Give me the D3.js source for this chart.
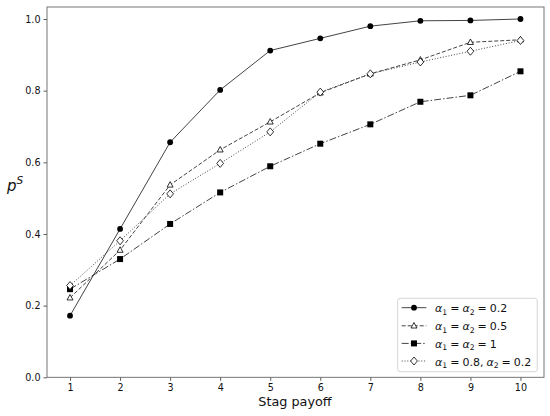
<!DOCTYPE html>
<html><head><meta charset="utf-8">
<script src="https://cdn.jsdelivr.net/npm/d3@7"></script>
<style>body{margin:0;background:#fff}svg{display:block}text{font-family:"DejaVu Sans",sans-serif}</style>
</head><body>
<svg id="c" width="550" height="416"></svg>
<script>
const payoffs = [1,2,3,4,5,6,7,8,9,10];
const s02 = [0.172,0.414,0.656,0.802,0.912,0.946,0.980,0.995,0.996,1.000];
const s05 = [0.222,0.355,0.537,0.635,0.713,0.794,0.847,0.886,0.935,0.942];
const s1  = [0.246,0.330,0.428,0.516,0.589,0.652,0.706,0.769,0.787,0.854];
const s08 = [0.256,0.381,0.512,0.597,0.685,0.796,0.847,0.880,0.910,0.940];
const yTicks = [0,0.2,0.4,0.6,0.8,1.0];
const xTicks = [1,2,3,4,5,6,7,8,9,10];
const legendLabels = [
  [["α","1"],"=",["α","2"],"=","0.2"],
  [["α","1"],"=",["α","2"],"=","0.5"],
  [["α","1"],"=",["α","2"],"=","1"],
  [["α","1"],"=","0.8,",["α","2"],"=","0.2"]
];

const series = [
  {vals:s02, marker:"circle", dash:null, label:legendLabels[0]},
  {vals:s05, marker:"triangle", dash:"4,2", label:legendLabels[1]},
  {vals:s1, marker:"square", dash:"7,2,1.5,2", label:legendLabels[2]},
  {vals:s08, marker:"diamond", dash:"1,1.8", label:legendLabels[3]}
];

const svg = d3.select("#c");
const L=47, R=544, T=7, B=377.3;
const x = d3.scaleLinear().domain([0.54,10.47]).range([L,R]);
const y = d3.scaleLinear().domain([0,1.0335]).range([B,T]);
const lineCol = "#444";

const gx = svg.append("g").attr("transform",`translate(0,${B})`)
  .call(d3.axisBottom(x).tickValues(xTicks).tickFormat(d3.format("d")).tickSize(3.5).tickPadding(3));
const gy = svg.append("g").attr("transform",`translate(${L},0)`)
  .call(d3.axisLeft(y).tickValues(yTicks).tickFormat(d3.format(".1f")).tickSize(3.5).tickPadding(3));
[gx,gy].forEach(g=>{
  g.select(".domain").remove();
  g.selectAll("line").attr("stroke","#333").attr("stroke-width",0.8);
  g.selectAll("text").attr("font-size",9.6).attr("fill","#111").style("font-family","DejaVu Sans");
});
svg.append("rect").attr("x",L).attr("y",T).attr("width",R-L).attr("height",B-T)
  .attr("fill","none").attr("stroke","#666").attr("stroke-width",0.9);

function drawMarker(g, type, cx, cy){
  if(type==="circle") g.append("circle").attr("cx",cx).attr("cy",cy).attr("r",2.9).attr("fill","#000");
  else if(type==="square") g.append("rect").attr("x",cx-3).attr("y",cy-3).attr("width",6).attr("height",6).attr("fill","#000");
  else if(type==="triangle") g.append("path").attr("d",`M${cx},${cy-3.3}L${cx+3},${cy+2.2}L${cx-3},${cy+2.2}Z`).attr("fill","#fff").attr("stroke","#000").attr("stroke-width",0.8);
  else if(type==="diamond") g.append("path").attr("d",`M${cx},${cy-4}L${cx+3.4},${cy}L${cx},${cy+4}L${cx-3.4},${cy}Z`).attr("fill","#fff").attr("stroke","#000").attr("stroke-width",0.8);
}

const line = d3.line().x((d,i)=>x(payoffs[i])).y(d=>y(d));
series.forEach(s=>{
  const g = svg.append("g");
  g.append("path").attr("d",line(s.vals)).attr("fill","none").attr("stroke",lineCol)
    .attr("stroke-width",1).attr("stroke-dasharray",s.dash);
  s.vals.forEach((v,i)=>drawMarker(g,s.marker,x(payoffs[i]),y(v)));
});

// axis labels
svg.append("text").attr("x",(L+R)/2 - 0.5).attr("y",406).attr("text-anchor","middle")
  .attr("font-size",12.8).attr("fill","#111").text("Stag payoff");
const yl = svg.append("text").attr("x",7).attr("y",191).attr("font-size",15).attr("fill","#111");
yl.append("tspan").attr("font-style","italic").text("p");
yl.append("tspan").attr("font-style","italic").attr("font-size",10.5).attr("dy",-7).text("S");

// legend
const lg = svg.append("g");
lg.append("rect").attr("x",397.7).attr("y",298.3).attr("width",139.6).attr("height",73.4).attr("rx",2.5)
  .attr("fill","#fff").attr("stroke","#ccc").attr("stroke-width",0.8);
const rowsY = [307.7,325.8,343.4,361];
series.forEach((s,i)=>{
  const ry = rowsY[i];
  lg.append("line").attr("x1",401.7).attr("x2",426.3).attr("y1",ry).attr("y2",ry)
    .attr("stroke",lineCol).attr("stroke-width",1).attr("stroke-dasharray",s.dash);
  drawMarker(lg,s.marker,414,ry);
  const t = lg.append("text").attr("x",435).attr("y",ry+4.6).attr("font-size",11).attr("fill","#111");
  let first = true, pendingDy = 0;
  s.label.forEach(p=>{
    if(Array.isArray(p)){
      t.append("tspan").attr("font-style","italic").attr("dx",first?0:(p[0]==="α"?3:0)).attr("dy",pendingDy).text(p[0]);
      t.append("tspan").attr("font-size",7.7).attr("dy",2.2).text(p[1]);
      pendingDy = -2.2;
    } else {
      const dx = p==="=" ? 3 : 3;
      t.append("tspan").attr("dx",dx).attr("dy",pendingDy).text(p);
      pendingDy = 0;
    }
    first = false;
  });
});
</script>
</body></html>
